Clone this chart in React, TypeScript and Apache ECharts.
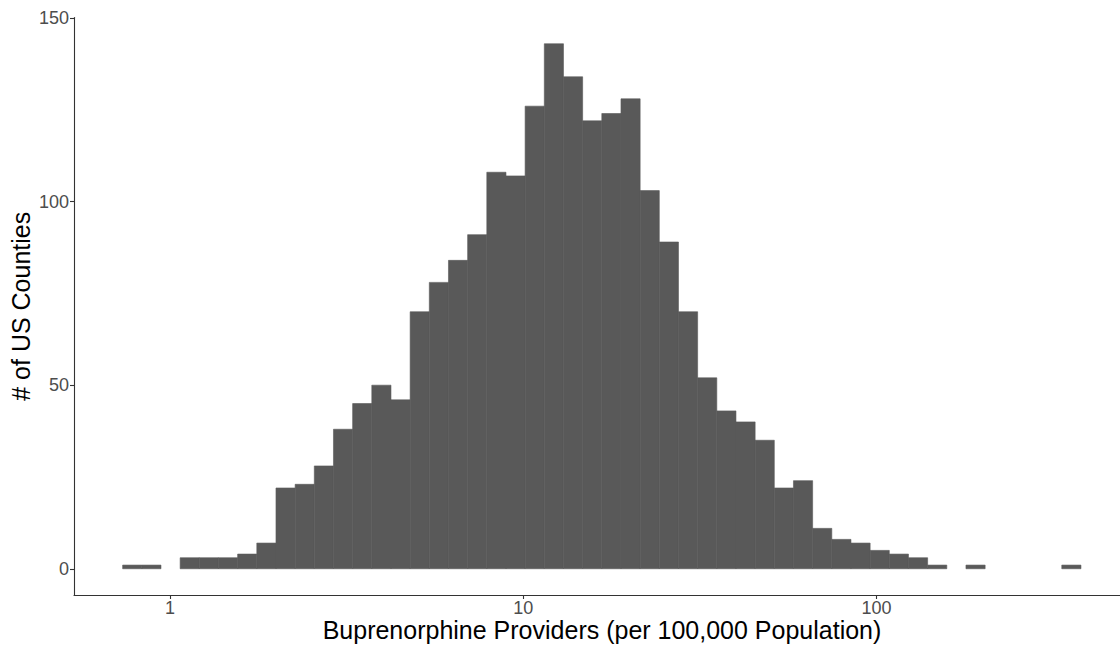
import React, { useEffect, useRef } from "react";
import * as echarts from "echarts";

// Histogram of county-level buprenorphine provider rates, binned on a log10 scale.
const LOG_BIN_START = -0.134; // log10 of the lower edge of the first bin
const LOG_BIN_WIDTH = 0.05425; // bin width in decades

const binCounts: number[] = [
  1, 1, 0, 3, 3, 3, 4, 7, 22, 23,
  28, 38, 45, 50, 46, 70, 78, 84, 91, 108,
  107, 126, 143, 134, 122, 124, 128, 103, 89, 70,
  52, 43, 40, 35, 22, 24, 11, 8, 7, 5,
  4, 3, 1, 0, 1, 0, 0, 0, 0, 1,
];

const xTickLogs: number[] = [0, 1, 2]; // 1, 10, 100
const yTicks: number[] = [0, 50, 100, 150];

const X_MIN = -0.2717;
const X_MAX = 2.689;
const Y_MIN = -7.15;
const Y_MAX = 150.15;

const FONT = "'Liberation Sans', Arial, Helvetica, sans-serif";
const BAR_COLOR = "#595959";

export default function App() {
  const ref = useRef<HTMLDivElement | null>(null);

  useEffect(() => {
    document.body.style.margin = "0";
    if (!ref.current) return;
    const chart = echarts.init(ref.current, undefined, { renderer: "svg" });

    const rows = binCounts.map((c, i) => [
      LOG_BIN_START + i * LOG_BIN_WIDTH,
      LOG_BIN_START + (i + 1) * LOG_BIN_WIDTH,
      c,
    ]);

    chart.setOption({
      animation: false,
      backgroundColor: "#ffffff",
      grid: {
        left: 74,
        right: 0,
        top: 17.5,
        bottom: 51,
        containLabel: false,
        outerBoundsMode: "none",
      },
      xAxis: {
        type: "value",
        min: X_MIN,
        max: X_MAX,
        name: "Buprenorphine Providers (per 100,000 Population)",
        nameLocation: "middle",
        nameGap: 22,
        nameMoveOverlap: false,
        nameTextStyle: {
          fontFamily: FONT,
          fontSize: 25,
          lineHeight: 25,
          color: "#000000",
          padding: [0, 0, 0, 10],
        },
        axisLine: { show: true, onZero: false, lineStyle: { color: "#333333", width: 1.1 } },
        axisTick: {
          show: true,
          length: 4,
          customValues: xTickLogs,
          lineStyle: { color: "#333333", width: 1.1 },
        },
        axisLabel: {
          customValues: xTickLogs,
          margin: 4,
          fontFamily: FONT,
          fontSize: 18,
          lineHeight: 17,
          color: "#4D4D4D",
          formatter: (v: number) => String(Math.round(Math.pow(10, v))),
        },
        splitLine: { show: false },
      },
      yAxis: {
        type: "value",
        min: Y_MIN,
        max: Y_MAX,
        name: "# of US Counties",
        nameLocation: "middle",
        nameGap: 41,
        nameMoveOverlap: false,
        nameTextStyle: { fontFamily: FONT, fontSize: 25, color: "#000000" },
        axisLine: { show: true, onZero: false, lineStyle: { color: "#333333", width: 1.1 } },
        axisTick: {
          show: true,
          length: 4,
          customValues: yTicks,
          lineStyle: { color: "#333333", width: 1.1 },
        },
        axisLabel: {
          customValues: yTicks,
          margin: 5,
          fontFamily: FONT,
          fontSize: 18,
          color: "#4D4D4D",
        },
        splitLine: { show: false },
      },
      series: [
        {
          type: "custom",
          encode: { x: [0, 1], y: 2 },
          data: rows,
          renderItem: (_params: any, api: any) => {
            const count = api.value(2);
            if (!count) return null;
            const p0 = api.coord([api.value(0), 0]);
            const p1 = api.coord([api.value(1), count]);
            return {
              type: "rect",
              shape: {
                x: p0[0],
                y: p1[1],
                width: p1[0] - p0[0],
                height: p0[1] - p1[1],
              },
              style: { fill: BAR_COLOR, stroke: BAR_COLOR, lineWidth: 0.6 },
            };
          },
        },
      ],
    });

    return () => chart.dispose();
  }, []);

  return <div ref={ref} style={{ width: 1120, height: 646 }} />;
}
